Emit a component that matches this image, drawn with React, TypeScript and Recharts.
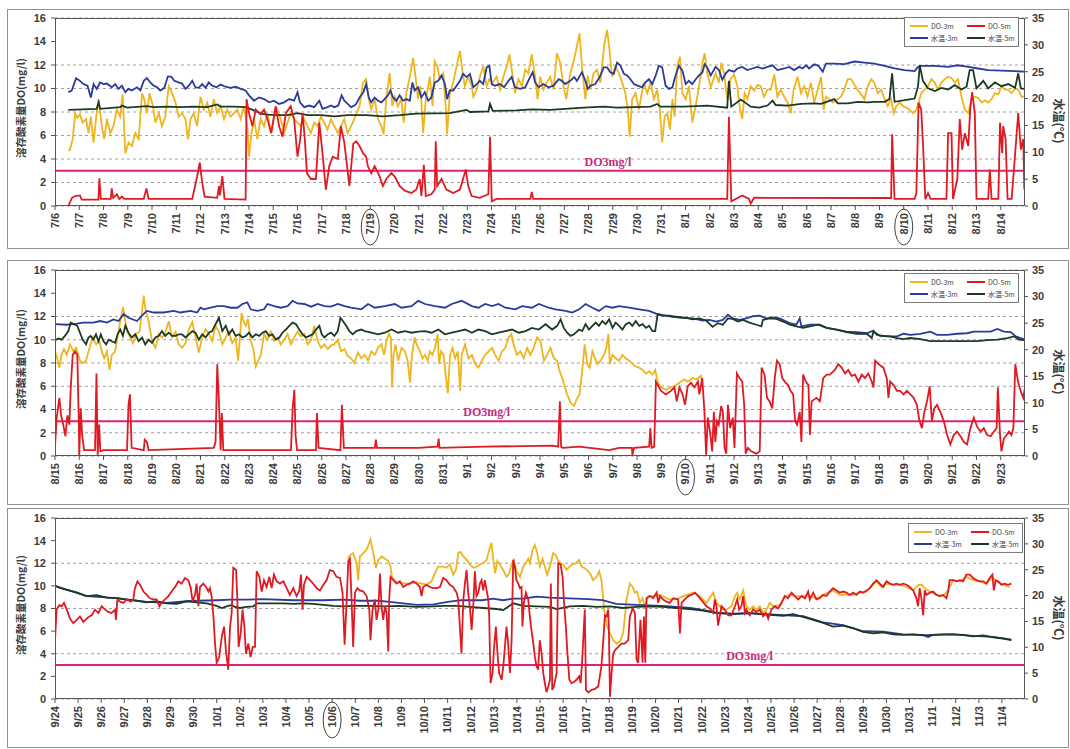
import { LineChart, Line, XAxis, YAxis, CartesianGrid, ReferenceLine } from "recharts";

type Pt = [number, number];

const YELLOW = "#efb51f";
const RED = "#e01a22";
const BLUE = "#2a3b9a";
const GREEN = "#1c3a22";
const MAGENTA = "#e2207a";

const seriesNames = ["DO-3m", "DO-5m", "水温-3m", "水温-5m"];
const seriesColors = [YELLOW, RED, BLUE, GREEN];

const doTicks = [0, 2, 4, 6, 8, 10, 12, 14, 16];
const tempTicks = [0, 5, 10, 15, 20, 25, 30, 35];

const p1Dates = ["7/6", "7/7", "7/8", "7/9", "7/10", "7/11", "7/12", "7/13", "7/14", "7/15", "7/16", "7/17", "7/18", "7/19", "7/20", "7/21", "7/22", "7/23", "7/24", "7/25", "7/26", "7/27", "7/28", "7/29", "7/30", "7/31", "8/1", "8/2", "8/3", "8/4", "8/5", "8/6", "8/7", "8/8", "8/9", "8/10", "8/11", "8/12", "8/13", "8/14"];
const p2Dates = ["8/15", "8/16", "8/17", "8/18", "8/19", "8/20", "8/21", "8/22", "8/23", "8/24", "8/25", "8/26", "8/27", "8/28", "8/29", "8/30", "8/31", "9/1", "9/2", "9/3", "9/4", "9/5", "9/6", "9/7", "9/8", "9/9", "9/10", "9/11", "9/12", "9/13", "9/14", "9/15", "9/16", "9/17", "9/18", "9/19", "9/20", "9/21", "9/22", "9/23"];
const p3Dates = ["9/24", "9/25", "9/26", "9/27", "9/28", "9/29", "9/30", "10/1", "10/2", "10/3", "10/4", "10/5", "10/6", "10/7", "10/8", "10/9", "10/10", "10/11", "10/12", "10/13", "10/14", "10/15", "10/16", "10/17", "10/18", "10/19", "10/20", "10/21", "10/22", "10/23", "10/24", "10/25", "10/26", "10/27", "10/28", "10/29", "10/30", "10/31", "11/1", "11/2", "11/3", "11/4"];

const p1Circled = ["7/19", "8/10"];
const p2Circled = ["9/10"];
const p3Circled = ["10/6"];

// [day from first tick, value]
const p1Do3: Pt[] = [[0.55,4.7],[0.62,4.8],[0.73,5.7],[0.83,7.9],[0.92,7.5],[1.03,7.8],[1.14,7.1],[1.28,7.4],[1.38,6.2],[1.48,7.6],[1.59,5.4],[1.7,7.6],[1.79,9.1],[1.93,6.8],[2.03,5.7],[2.14,7.4],[2.28,6.2],[2.41,6.8],[2.55,8.2],[2.69,7.6],[2.79,9.5],[2.9,4.5],[3.03,5.4],[3.17,5.1],[3.31,6.2],[3.45,5.7],[3.59,9.6],[3.68,9.1],[3.79,7.9],[3.9,9.6],[4.04,8.5],[4.14,7.1],[4.28,7.9],[4.41,6.8],[4.55,7.6],[4.69,10.2],[4.83,9.6],[4.97,8.8],[5.1,7.6],[5.24,7.9],[5.38,7.4],[5.48,5.7],[5.59,7.4],[5.72,7.9],[5.86,6.8],[6.0,9.3],[6.14,8.2],[6.28,8.8],[6.41,7.6],[6.55,9.1],[6.69,7.9],[6.83,8.5],[6.97,7.4],[7.1,8.2],[7.24,7.6],[7.38,7.9],[7.52,8.2],[7.66,7.4],[7.79,8.5],[7.93,6.8],[8.0,4.2],[8.1,6.2],[8.21,7.4],[8.34,5.7],[8.48,7.4],[8.62,6.8],[8.76,7.9],[8.9,6.2],[9.03,7.6],[9.17,8.2],[9.31,7.4],[9.45,6.2],[9.59,7.1],[9.72,7.9],[9.86,7.4],[10.0,7.1],[10.14,6.8],[10.28,7.4],[10.41,6.8],[10.55,6.2],[10.69,7.1],[10.83,6.8],[10.97,7.6],[11.1,7.1],[11.24,6.5],[11.38,7.4],[11.52,6.8],[11.66,6.2],[11.79,6.8],[11.93,7.4],[12.07,6.2],[12.21,6.8],[12.34,7.4],[12.56,8.5],[12.7,10.5],[12.83,10.8],[12.94,9.1],[13.04,8.2],[13.18,9.1],[13.32,7.4],[13.46,6.8],[13.55,6.1],[13.66,9.1],[13.8,11.3],[13.91,8.5],[14.01,9.3],[14.14,8.5],[14.28,9.1],[14.38,7.1],[14.49,9.6],[14.63,11.0],[14.77,12.6],[14.88,10.8],[14.97,9.1],[15.07,10.2],[15.18,6.2],[15.29,9.1],[15.46,11.0],[15.57,8.5],[15.66,12.3],[15.76,11.9],[15.87,10.8],[16.01,11.3],[16.12,8.2],[16.17,6.1],[16.28,9.6],[16.42,10.5],[16.56,11.9],[16.7,13.2],[16.81,11.3],[16.9,10.2],[17.04,11.0],[17.18,10.2],[17.25,9.3],[17.39,9.9],[17.52,11.0],[17.66,11.9],[17.8,10.2],[17.91,10.8],[18.05,10.5],[18.21,11.0],[18.35,9.9],[18.49,11.0],[18.63,11.9],[18.74,12.9],[18.88,11.0],[18.97,9.6],[19.11,10.8],[19.25,10.2],[19.39,11.6],[19.52,11.3],[19.66,12.9],[19.8,11.0],[19.9,9.1],[20.01,11.0],[20.14,9.9],[20.28,10.5],[20.42,11.0],[20.56,9.9],[20.7,13.0],[20.83,12.2],[20.97,10.2],[21.08,9.1],[21.25,11.3],[21.41,12.5],[21.52,13.6],[21.63,14.7],[21.73,11.9],[21.87,9.1],[21.97,11.1],[22.08,9.9],[22.21,11.3],[22.35,11.6],[22.49,10.5],[22.66,13.9],[22.77,15.0],[22.88,13.0],[22.97,11.0],[23.11,11.9],[23.25,11.3],[23.39,10.5],[23.52,9.6],[23.62,8.2],[23.7,5.9],[23.8,9.1],[23.94,9.6],[24.08,8.2],[24.17,9.3],[24.28,10.5],[24.42,9.6],[24.56,10.5],[24.7,9.1],[24.83,9.9],[24.94,8.2],[25.04,5.4],[25.14,7.6],[25.25,7.9],[25.36,6.5],[25.46,9.1],[25.55,7.6],[25.66,11.9],[25.77,12.7],[25.87,9.6],[26.01,9.1],[26.14,10.2],[26.28,7.1],[26.42,8.5],[26.56,10.2],[26.7,12.2],[26.79,13.0],[26.9,11.3],[27.04,10.1],[27.24,11.3],[27.38,10.5],[27.48,12.2],[27.59,11.3],[27.72,9.1],[27.86,10.8],[28.0,11.2],[28.14,10.2],[28.25,8.2],[28.34,7.4],[28.44,9.6],[28.55,9.1],[28.69,10.2],[28.83,9.8],[28.97,10.3],[29.1,10.2],[29.24,9.3],[29.38,9.9],[29.52,9.9],[29.66,11.2],[29.79,9.3],[29.93,9.9],[30.07,9.3],[30.21,8.8],[30.34,7.9],[30.46,9.9],[30.62,11.0],[30.76,9.6],[30.9,10.2],[31.03,9.3],[31.17,10.5],[31.31,8.8],[31.45,9.9],[31.59,11.0],[31.7,8.2],[31.79,9.3],[31.93,9.1],[32.07,8.8],[32.28,9.1],[32.41,9.3],[32.55,9.9],[32.69,10.8],[32.83,10.8],[32.97,10.3],[33.1,9.9],[33.24,9.5],[33.38,9.1],[33.52,10.2],[33.66,10.8],[33.79,10.5],[33.93,9.6],[34.07,9.9],[34.21,9.1],[34.34,8.5],[34.48,9.1],[34.59,7.9],[34.69,8.5],[34.83,8.8],[34.97,8.5],[35.1,8.4],[35.24,8.2],[35.38,7.9],[35.52,8.2],[35.61,8.8],[35.72,9.6],[35.86,9.9],[36.0,10.2],[36.14,10.8],[36.28,10.5],[36.41,9.9],[36.55,10.5],[36.69,10.8],[36.83,11.0],[36.97,10.9],[37.1,10.5],[37.24,10.8],[37.38,9.3],[37.52,8.2],[37.66,7.9],[37.79,9.1],[37.93,9.3],[38.07,9.2],[38.21,8.8],[38.34,9.0],[38.48,8.8],[38.62,9.1],[38.76,9.6],[38.9,9.5],[39.03,10.2],[39.17,9.9],[39.31,9.9],[39.45,9.6],[39.59,10.0],[39.72,9.9],[39.86,9.3],[39.97,9.3]];

const p1Do5: Pt[] = [[0.55,0],[0.7,0.7],[0.83,0.85],[1.03,0.9],[1.1,0.55],[1.79,0.55],[1.83,2.35],[1.89,0.6],[2.3,0.6],[2.34,1.5],[2.4,0.7],[2.55,1.0],[2.65,0.6],[2.76,0.8],[2.85,0.6],[3.66,0.6],[3.77,1.5],[3.86,0.6],[5.66,0.6],[5.86,2.5],[5.97,3.7],[6.07,2.0],[6.17,0.8],[6.69,0.7],[6.76,1.7],[6.8,0.9],[6.9,2.55],[6.99,0.6],[7.86,0.55],[7.9,9.1],[8.0,7.9],[8.14,6.8],[8.28,8.2],[8.48,7.8],[8.62,8.2],[8.76,7.4],[8.92,6.2],[9.1,8.5],[9.24,6.8],[9.38,5.9],[9.52,7.9],[9.72,8.5],[9.86,7.4],[10.0,4.2],[10.11,5.7],[10.21,7.9],[10.3,5.7],[10.39,2.8],[10.55,2.3],[10.76,2.3],[10.9,7.1],[11.03,4.5],[11.17,1.4],[11.31,3.4],[11.45,4.2],[11.66,4.0],[11.79,6.8],[11.93,5.4],[12.14,1.7],[12.3,5.3],[12.42,5.5],[12.56,5.1],[12.7,4.5],[12.83,4.2],[12.9,3.4],[13.04,2.8],[13.18,3.4],[13.39,2.5],[13.52,1.7],[13.66,2.3],[13.87,2.8],[14.01,2.5],[14.21,1.7],[14.42,1.3],[14.7,1.1],[14.9,1.4],[15.04,2.3],[15.11,0.85],[15.21,3.5],[15.29,0.85],[15.52,1.0],[15.66,1.4],[15.7,5.5],[15.76,1.7],[15.94,2.3],[16.14,1.4],[16.42,1.1],[16.7,1.4],[16.94,3.1],[17.04,1.7],[17.18,0.85],[17.52,0.7],[17.87,1.0],[17.94,5.9],[18.01,0.4],[18.21,0.6],[19.6,0.6],[19.66,1.2],[19.72,0.6],[27.72,0.6],[27.79,7.6],[27.89,0.4],[28.34,0.9],[28.62,0.6],[28.69,0.2],[28.83,0.7],[34.48,0.68],[34.52,6.1],[34.62,0.6],[35.45,0.6],[35.52,1.1],[35.61,8.8],[35.72,8.2],[35.79,5.4],[35.89,0.57],[36.0,1.1],[36.11,0.6],[36.76,0.6],[36.83,6.2],[36.97,6.2],[37.03,0.6],[37.21,2.3],[37.31,7.4],[37.41,4.8],[37.52,6.2],[37.66,5.1],[37.74,8.2],[37.82,9.7],[37.93,7.9],[38.0,0.6],[38.48,0.6],[38.55,3.1],[38.62,0.6],[38.9,0.6],[38.97,7.1],[39.06,4.5],[39.1,6.8],[39.2,5.7],[39.28,0.6],[39.45,0.6],[39.72,7.9],[39.83,4.8],[39.93,5.7],[39.97,1.4]];

const p1T3: Pt[] = [[0.55,21.2],[0.69,21.5],[0.87,23.8],[1.03,23.3],[1.17,22.7],[1.34,22.4],[1.48,20.2],[1.59,22.7],[1.72,21.8],[1.86,23.0],[2.0,22.7],[2.14,22.8],[2.34,22.1],[2.48,22.7],[2.62,21.8],[2.76,22.4],[2.9,21.2],[3.03,21.8],[3.17,21.5],[3.38,22.1],[3.52,21.5],[3.66,23.3],[3.79,23.8],[3.93,23.0],[4.07,22.4],[4.21,22.1],[4.34,21.5],[4.51,22.0],[4.65,24.1],[4.79,24.1],[4.92,23.3],[5.1,23.0],[5.24,22.8],[5.38,21.8],[5.52,22.4],[5.66,23.3],[5.79,22.1],[5.93,22.0],[6.07,22.7],[6.21,22.0],[6.34,23.0],[6.48,22.4],[6.66,22.1],[6.83,22.6],[7.03,22.2],[7.24,22.0],[7.45,22.2],[7.66,21.8],[7.86,21.5],[8.0,20.6],[8.21,19.6],[8.41,20.2],[8.62,19.9],[8.83,19.3],[9.03,19.6],[9.24,19.0],[9.45,19.3],[9.66,19.9],[9.86,19.6],[10.0,21.2],[10.1,19.3],[10.28,18.4],[10.48,18.7],[10.69,18.4],[10.9,19.6],[11.03,18.1],[11.24,18.4],[11.38,18.7],[11.52,18.4],[11.68,18.7],[11.82,20.6],[11.93,19.6],[12.07,19.0],[12.21,18.4],[12.34,18.7],[12.42,19.0],[12.56,20.2],[12.72,21.2],[12.83,22.7],[12.94,20.2],[13.04,19.3],[13.18,20.2],[13.32,19.6],[13.46,19.3],[13.59,19.9],[13.73,20.6],[13.83,21.5],[13.94,20.2],[14.08,19.6],[14.21,20.6],[14.35,19.6],[14.49,19.9],[14.63,19.6],[14.74,23.0],[14.83,21.5],[14.97,22.1],[15.11,20.2],[15.25,21.2],[15.39,19.6],[15.52,20.2],[15.66,23.0],[15.8,23.3],[15.94,24.3],[16.08,22.7],[16.17,19.9],[16.28,21.5],[16.42,21.5],[16.56,22.4],[16.7,23.3],[16.83,24.6],[16.97,24.0],[17.11,24.6],[17.25,22.1],[17.39,22.7],[17.52,23.3],[17.66,22.7],[17.8,25.8],[17.91,26.1],[18.01,22.7],[18.14,22.4],[18.35,22.7],[18.52,22.1],[18.7,23.3],[18.83,24.0],[18.97,22.1],[19.18,21.8],[19.39,22.1],[19.59,24.0],[19.7,24.9],[19.8,23.0],[19.94,22.1],[20.14,22.7],[20.35,22.1],[20.56,22.4],[20.77,23.6],[20.9,23.3],[21.04,22.7],[21.25,23.3],[21.41,24.0],[21.52,23.3],[21.73,24.9],[21.87,23.3],[21.97,21.8],[22.08,22.4],[22.28,22.7],[22.46,24.0],[22.63,25.8],[22.77,25.8],[22.9,24.9],[23.04,24.6],[23.18,26.7],[23.32,26.1],[23.46,24.6],[23.59,24.3],[23.73,23.6],[23.87,22.7],[24.03,22.4],[24.21,22.1],[24.35,23.0],[24.49,23.6],[24.63,22.7],[24.77,24.3],[24.9,26.1],[25.04,25.8],[25.18,22.4],[25.32,21.8],[25.46,22.1],[25.59,24.3],[25.73,26.1],[25.87,25.2],[26.01,22.7],[26.14,23.3],[26.28,22.7],[26.42,23.6],[26.56,24.3],[26.7,24.9],[26.79,26.4],[26.9,25.8],[27.04,24.3],[27.24,25.9],[27.38,25.3],[27.52,23.5],[27.66,24.7],[27.79,25.3],[28.0,25.0],[28.14,25.6],[28.34,25.9],[28.55,25.3],[28.76,25.6],[28.97,25.9],[29.17,25.6],[29.38,25.9],[29.59,26.2],[29.79,25.3],[30.07,25.6],[30.28,25.9],[30.48,25.3],[30.69,25.9],[30.83,25.6],[30.97,26.2],[31.1,25.6],[31.31,26.4],[31.48,26.1],[31.66,25.0],[31.79,26.5],[32.14,26.5],[32.55,26.4],[32.97,26.9],[33.38,26.7],[33.79,26.5],[34.21,26.1],[34.62,25.6],[35.03,25.3],[35.45,25.1],[35.59,25.9],[35.72,26.1],[36.28,26.1],[36.83,25.9],[37.24,26.2],[37.66,25.9],[38.07,25.6],[38.48,25.3],[39.03,25.2],[39.59,25.1],[39.97,25.0]];

const p1T5: Pt[] = [[0.55,17.9],[1.72,18.1],[1.8,19.3],[1.86,18.1],[2.69,18.4],[2.76,18.7],[2.97,18.3],[3.52,18.5],[3.79,18.6],[4.07,18.4],[4.62,18.5],[5.17,18.4],[5.72,18.5],[6.28,18.4],[6.69,18.9],[6.83,18.5],[7.38,18.5],[7.86,18.4],[8.21,17.8],[8.48,17.2],[8.76,17.0],[9.17,16.9],[9.59,16.9],[10.0,17.3],[10.41,16.9],[10.97,16.9],[11.52,16.7],[12.07,16.9],[12.83,16.9],[13.52,16.7],[14.21,16.9],[14.9,17.2],[16.28,17.3],[16.97,17.9],[17.11,17.5],[17.87,17.6],[17.94,19.0],[18.05,17.7],[19.04,17.8],[19.66,18.0],[20.42,17.9],[21.8,18.3],[22.63,18.5],[23.18,18.3],[24.56,18.5],[24.83,19.0],[24.97,18.5],[25.94,18.5],[26.9,18.7],[27.72,18.3],[27.79,23.3],[27.89,18.5],[28.28,19.8],[28.48,19.2],[28.69,18.5],[29.03,18.3],[29.38,18.7],[29.59,19.6],[29.72,18.8],[30.21,18.7],[30.76,19.0],[31.31,19.1],[31.59,19.0],[32.14,19.9],[32.28,19.1],[32.69,19.1],[33.1,19.4],[33.52,19.3],[33.79,19.4],[34.21,19.4],[34.41,19.9],[34.52,24.7],[34.62,19.4],[35.17,19.8],[35.45,20.0],[35.59,22.3],[35.66,26.2],[35.79,23.3],[36.0,21.9],[36.28,21.4],[36.55,22.0],[36.83,21.7],[37.1,22.5],[37.38,21.7],[37.59,22.2],[37.72,25.3],[37.86,25.3],[38.0,21.9],[38.28,23.3],[38.48,21.9],[38.76,23.0],[39.03,22.3],[39.31,22.7],[39.59,22.0],[39.72,24.7],[39.83,21.9],[39.97,21.8]];

const p2Do3: Pt[] = [[0,9.0],[0.09,8.4],[0.18,7.6],[0.27,8.7],[0.37,9.2],[0.48,8.7],[0.62,9.6],[0.76,9.0],[0.87,9.3],[0.96,8.7],[1.03,8.2],[1.14,8.0],[1.28,8.2],[1.42,9.3],[1.56,10.2],[1.7,9.6],[1.83,9.9],[1.93,9.0],[2.03,8.4],[2.14,9.0],[2.25,7.4],[2.34,8.7],[2.48,9.0],[2.58,10.2],[2.69,11.6],[2.8,12.8],[2.9,11.6],[2.99,10.7],[3.1,10.2],[3.21,9.7],[3.35,10.5],[3.49,10.7],[3.59,12.5],[3.66,13.8],[3.74,12.5],[3.86,11.6],[4.0,9.9],[4.14,9.3],[4.28,10.5],[4.41,10.2],[4.55,10.6],[4.69,11.6],[4.83,10.2],[4.97,10.7],[5.1,9.6],[5.24,9.3],[5.38,9.7],[5.52,10.9],[5.66,11.5],[5.79,10.3],[5.93,8.9],[6.07,10.2],[6.21,10.9],[6.35,10.5],[6.48,9.9],[6.62,11.2],[6.76,10.7],[6.9,9.6],[7.04,10.2],[7.17,10.7],[7.31,9.7],[7.45,10.2],[7.55,8.2],[7.63,10.2],[7.69,12.3],[7.77,11.6],[7.87,11.2],[7.96,11.8],[8.07,9.9],[8.18,9.2],[8.28,7.7],[8.38,8.2],[8.49,8.7],[8.62,10.5],[8.76,10.0],[8.9,10.7],[9.04,9.9],[9.18,10.2],[9.31,9.6],[9.45,10.0],[9.59,10.5],[9.73,9.6],[9.87,10.2],[10.0,10.7],[10.14,10.3],[10.28,10.5],[10.42,9.6],[10.56,10.0],[10.69,11.2],[10.83,9.9],[10.97,9.3],[11.11,9.6],[11.25,9.2],[11.38,9.5],[11.52,9.6],[11.66,10.0],[11.8,9.0],[11.94,9.2],[12.07,8.6],[12.21,8.4],[12.35,8.0],[12.49,8.9],[12.63,8.4],[12.77,8.7],[12.91,8.2],[13.05,9.0],[13.19,8.7],[13.32,9.3],[13.46,9.6],[13.57,8.7],[13.67,9.9],[13.77,10.5],[13.85,10.2],[13.9,5.9],[13.96,8.7],[14.04,9.6],[14.15,8.2],[14.29,9.3],[14.43,9.0],[14.54,8.2],[14.64,6.3],[14.72,8.7],[14.83,10.2],[14.91,9.6],[15.05,9.0],[15.15,8.4],[15.26,8.7],[15.37,8.2],[15.46,9.0],[15.56,8.7],[15.67,9.3],[15.78,10.5],[15.84,7.9],[15.92,9.0],[16.02,8.7],[16.11,7.0],[16.2,5.4],[16.29,8.7],[16.39,9.3],[16.5,8.4],[16.61,9.0],[16.71,5.6],[16.77,8.7],[16.91,9.6],[17.05,8.4],[17.19,8.7],[17.33,7.9],[17.46,7.6],[17.6,8.2],[17.74,8.7],[17.88,9.0],[18.02,9.3],[18.15,8.7],[18.29,8.2],[18.43,9.0],[18.57,9.3],[18.71,10.2],[18.82,10.5],[18.91,9.6],[19.05,8.7],[19.19,9.0],[19.33,8.4],[19.47,9.3],[19.6,8.7],[19.74,9.3],[19.88,10.2],[20.02,9.9],[20.16,8.2],[20.29,8.7],[20.43,9.3],[20.57,8.4],[20.71,8.2],[20.81,7.3],[20.92,6.7],[21.03,5.9],[21.12,5.3],[21.26,4.6],[21.4,4.3],[21.54,5.0],[21.63,5.3],[21.74,7.3],[21.84,9.6],[21.95,7.9],[22.05,7.6],[22.16,9.0],[22.27,8.4],[22.37,7.9],[22.5,8.2],[22.64,8.7],[22.74,9.3],[22.82,10.5],[22.88,7.9],[22.99,8.7],[23.12,8.4],[23.26,8.2],[23.4,8.7],[23.54,8.4],[23.68,8.2],[23.81,7.9],[23.95,7.7],[24.09,7.6],[24.23,7.4],[24.37,7.1],[24.5,7.3],[24.64,7.0],[24.75,7.4],[24.85,6.4],[24.99,5.9],[25.19,5.7],[25.4,5.9],[25.54,6.0],[25.75,6.3],[25.95,6.6],[26.09,6.4],[26.3,6.7],[26.44,6.6],[26.64,6.9],[26.69,6.4]];

const p2Do5: Pt[] = [[0,0.8],[0.07,3.3],[0.18,5.0],[0.25,3.5],[0.34,2.7],[0.43,1.7],[0.51,3.5],[0.59,2.7],[0.65,5.9],[0.73,8.7],[0.83,9.0],[0.92,8.7],[0.98,3.0],[1.0,0],[1.06,4.1],[1.12,1.8],[1.2,0.5],[1.65,0.5],[1.71,7.1],[1.76,0.1],[1.82,2.7],[1.87,0.4],[2.0,0.5],[2.97,0.5],[3.03,4.4],[3.09,5.3],[3.16,0.7],[3.66,0.5],[3.7,1.4],[3.79,1.2],[3.86,0.5],[6.55,0.7],[6.62,1.2],[6.69,7.9],[6.76,4.7],[6.83,0.5],[6.88,3.7],[6.94,0.5],[9.73,0.5],[9.8,4.1],[9.87,5.7],[9.92,1.8],[9.98,0.5],[10.76,0.5],[10.8,3.7],[10.87,0.7],[11.77,0.5],[11.83,4.4],[11.91,0.7],[12.63,0.7],[13.19,0.7],[13.23,1.4],[13.28,0.7],[14.98,0.7],[15.78,0.8],[15.82,1.5],[15.86,0.7],[17.74,0.8],[20.5,0.9],[20.75,0.8],[20.82,4.7],[20.87,0.8],[20.94,0.7],[21.61,0.8],[22.85,0.5],[23.26,0.7],[23.79,0.7],[23.81,0.1],[23.88,0.7],[24.5,0.8],[24.55,2.4],[24.6,0.7],[24.71,0.8],[24.78,6.4],[24.99,5.6],[25.19,5.3],[25.4,5.6],[25.54,5.9],[25.64,4.7],[25.75,5.9],[25.88,5.3],[25.98,4.4],[26.09,6.0],[26.23,6.3],[26.37,5.9],[26.51,6.4],[26.57,5.3],[26.69,6.7],[26.78,3.8],[26.85,0.1],[26.92,3.3],[27.01,2.1],[27.1,0.4],[27.17,3.8],[27.23,1.2],[27.3,3.0],[27.37,2.7],[27.47,4.3],[27.54,3.8],[27.61,0.7],[27.68,0.2],[27.75,4.4],[27.84,2.4],[27.95,3.3],[28.02,0.7],[28.12,7.1],[28.23,6.7],[28.34,6.4],[28.42,4.4],[28.48,0.2],[28.57,0.7],[28.71,0.4],[28.92,0.2],[29.06,0.4],[29.14,7.6],[29.26,7.0],[29.36,5.0],[29.47,4.7],[29.58,4.1],[29.68,6.7],[29.77,8.2],[29.88,7.9],[29.99,6.7],[30.09,6.4],[30.23,6.1],[30.33,5.6],[30.44,5.3],[30.52,3.0],[30.6,2.7],[30.71,3.8],[30.78,1.2],[30.85,7.0],[30.96,6.4],[31.07,6.1],[31.13,1.8],[31.2,4.7],[31.4,5.0],[31.54,4.7],[31.68,6.7],[31.82,7.0],[31.95,7.0],[32.16,7.4],[32.3,7.9],[32.44,7.6],[32.58,7.1],[32.71,7.4],[32.85,6.9],[32.99,7.0],[33.13,6.4],[33.27,7.0],[33.4,6.7],[33.54,7.1],[33.68,6.4],[33.75,5.9],[33.82,8.2],[33.96,7.9],[34.16,7.6],[34.3,6.7],[34.37,5.0],[34.44,6.4],[34.58,6.1],[34.72,5.6],[34.85,5.6],[34.99,5.3],[35.13,5.6],[35.27,5.3],[35.41,5.0],[35.54,4.4],[35.65,3.0],[35.75,2.4],[35.85,3.8],[35.96,4.7],[36.07,6.0],[36.16,3.0],[36.26,4.1],[36.37,4.4],[36.51,3.8],[36.65,3.0],[36.79,1.8],[36.92,1.0],[37.06,1.8],[37.2,2.1],[37.34,1.7],[37.48,1.2],[37.61,1.0],[37.75,2.4],[37.89,3.3],[38.03,2.5],[38.17,2.1],[38.3,2.4],[38.44,1.8],[38.58,1.7],[38.72,2.1],[38.83,2.4],[38.88,5.9],[38.97,1.8],[39.03,0.4],[39.13,1.5],[39.24,1.8],[39.34,2.1],[39.44,1.8],[39.52,2.4],[39.6,7.9],[39.71,6.4],[39.82,5.6],[39.93,5.0],[40,5.9]];

const p2T3: Pt[] = [[0,24.8],[0.48,24.7],[0.9,24.9],[1.17,25.1],[1.58,25.1],[1.86,25.4],[2.14,25.1],[2.41,25.7],[2.62,25.4],[2.83,26.7],[3.03,26.0],[3.38,25.4],[3.65,26.7],[3.79,27.3],[4.07,27.0],[4.48,27.0],[4.9,27.3],[5.17,27.0],[5.59,27.3],[5.86,27.0],[6.0,27.9],[6.14,27.6],[6.42,27.9],[6.69,28.2],[6.97,28.2],[7.24,27.9],[7.52,27.9],[7.73,28.6],[7.93,28.9],[8.07,27.6],[8.35,27.3],[8.62,27.6],[8.76,28.6],[9.04,28.2],[9.31,27.9],[9.59,28.2],[9.8,29.2],[10.0,28.7],[10.28,28.6],[10.56,28.1],[10.83,28.6],[11.11,28.2],[11.38,28.1],[11.66,28.6],[11.94,28.2],[12.21,27.9],[12.63,27.6],[12.91,28.6],[13.19,27.9],[13.6,28.2],[14.01,28.6],[14.29,27.9],[14.7,28.2],[14.98,29.2],[15.26,28.6],[15.67,28.2],[16.08,27.9],[16.36,28.6],[16.77,29.2],[17.19,28.2],[17.46,27.9],[17.74,28.6],[18.02,28.2],[18.29,28.6],[18.57,27.9],[18.98,27.6],[19.26,28.2],[19.67,27.9],[19.95,28.6],[20.36,27.9],[20.64,27.6],[21.05,27.3],[21.33,27.0],[21.61,27.6],[21.88,28.6],[22.16,27.9],[22.43,27.3],[22.71,28.2],[22.99,27.9],[23.26,28.2],[23.68,27.9],[24.09,27.6],[24.5,27.3],[24.78,26.8],[25.06,26.5],[25.47,26.2],[25.88,26.0],[26.3,25.9],[26.71,25.5],[26.99,25.6],[27.26,25.3],[27.54,25.6],[27.75,26.6],[27.95,25.9],[28.23,25.6],[28.5,25.9],[28.78,26.3],[29.06,26.4],[29.33,25.9],[29.61,26.1],[29.88,25.9],[30.3,25.0],[30.57,24.7],[30.71,25.9],[30.78,24.4],[31.13,24.7],[31.54,24.7],[31.82,24.1],[32.23,23.8],[32.64,23.4],[33.06,23.3],[33.47,23.1],[33.75,23.6],[33.89,22.8],[34.3,22.5],[34.72,22.5],[34.99,23.0],[35.27,22.8],[35.68,23.0],[36.1,23.4],[36.37,22.8],[36.79,22.8],[37.2,23.0],[37.61,23.1],[37.89,23.4],[38.17,23.4],[38.58,23.4],[38.86,23.9],[39.13,23.4],[39.41,23.3],[39.62,22.5],[39.82,22.2],[40,21.9]];

const p2T5: Pt[] = [[0,21.8],[0.14,22.1],[0.27,21.9],[0.41,22.6],[0.55,23.5],[0.65,25.1],[0.78,24.8],[0.92,24.5],[1.03,23.2],[1.14,21.9],[1.28,21.0],[1.38,22.3],[1.47,22.6],[1.58,21.9],[1.69,22.9],[1.79,21.6],[1.89,22.9],[2.0,21.6],[2.11,21.0],[2.21,21.9],[2.34,21.6],[2.48,21.3],[2.58,22.9],[2.69,23.8],[2.8,22.6],[2.9,24.5],[3.03,23.2],[3.17,22.3],[3.31,22.9],[3.45,21.6],[3.59,22.3],[3.72,21.0],[3.86,21.9],[4.0,21.3],[4.14,22.3],[4.28,22.6],[4.41,23.5],[4.55,22.6],[4.69,23.2],[4.83,22.6],[4.97,22.6],[5.1,22.9],[5.24,22.9],[5.38,22.3],[5.52,22.9],[5.66,23.5],[5.79,23.2],[5.93,21.9],[6.07,22.9],[6.21,22.3],[6.35,23.2],[6.48,23.5],[6.62,24.8],[6.76,26.0],[6.9,23.5],[7.04,24.5],[7.17,22.9],[7.31,23.8],[7.45,22.6],[7.59,22.9],[7.73,22.3],[7.87,22.6],[8.0,23.2],[8.14,22.3],[8.28,22.9],[8.42,22.6],[8.56,23.2],[8.69,23.5],[8.83,22.6],[8.97,22.9],[9.11,21.9],[9.25,22.3],[9.38,23.2],[9.52,23.8],[9.66,24.5],[9.8,25.1],[9.94,24.8],[10.07,23.8],[10.21,22.9],[10.35,22.3],[10.49,22.6],[10.63,22.9],[10.76,23.8],[10.9,24.5],[11.0,22.9],[11.11,22.3],[11.25,22.9],[11.38,23.2],[11.52,22.6],[11.66,23.5],[11.77,26.0],[11.87,25.4],[12.01,24.5],[12.14,23.5],[12.28,22.9],[12.42,23.5],[12.63,23.8],[12.77,23.5],[13.05,23.2],[13.32,22.9],[13.6,23.2],[13.88,23.8],[14.15,23.2],[14.43,23.5],[14.7,23.2],[14.98,23.4],[15.26,23.5],[15.53,23.2],[15.81,23.8],[16.08,22.9],[16.36,23.2],[16.64,23.5],[16.91,23.8],[17.19,23.2],[17.46,23.8],[17.74,23.5],[18.02,22.9],[18.29,23.2],[18.57,23.5],[18.85,23.8],[19.12,23.2],[19.4,23.5],[19.67,24.1],[19.95,23.8],[20.23,24.8],[20.5,23.8],[20.71,24.5],[20.85,25.7],[20.98,24.1],[21.12,23.2],[21.26,22.6],[21.4,22.9],[21.61,23.8],[21.74,23.5],[21.88,24.8],[22.02,23.8],[22.16,24.5],[22.3,25.1],[22.43,24.5],[22.57,25.4],[22.71,24.8],[22.85,25.7],[22.99,24.1],[23.12,25.1],[23.26,24.5],[23.4,23.8],[23.54,24.8],[23.68,25.1],[23.81,24.5],[23.95,25.4],[24.09,24.5],[24.23,24.8],[24.37,24.1],[24.5,24.5],[24.64,23.5],[24.75,23.5],[24.85,26.7],[25.06,26.4],[25.33,26.4],[25.61,26.2],[26.02,26.0],[26.3,25.7],[26.57,25.9],[26.85,25.5],[27.12,24.3],[27.33,25.0],[27.54,24.7],[27.75,25.9],[27.95,25.8],[28.16,25.3],[28.37,25.6],[28.64,25.1],[28.92,24.7],[29.13,24.4],[29.19,25.6],[29.47,25.9],[29.75,25.8],[30.02,25.3],[30.3,24.7],[30.57,24.4],[30.85,24.1],[31.13,24.4],[31.47,24.7],[31.82,24.1],[32.23,23.8],[32.64,23.3],[33.06,23.0],[33.47,23.0],[33.68,22.2],[33.75,23.4],[34.03,22.6],[34.44,22.5],[34.72,22.2],[34.99,22.0],[35.27,22.2],[35.68,22.0],[36.1,21.6],[36.37,21.6],[36.79,21.6],[37.2,21.6],[37.61,21.6],[38.03,21.6],[38.44,21.8],[38.86,21.9],[39.27,22.2],[39.55,22.5],[39.75,21.9],[40,21.8]];

const p3Do3: Pt[] = [[12.68,12.4],[12.77,12.7],[12.91,12.9],[13.06,12.0],[13.13,10.5],[13.2,12.6],[13.35,12.9],[13.49,13.2],[13.61,13.8],[13.66,14.1],[13.78,12.9],[13.9,11.6],[14.0,12.3],[14.14,12.6],[14.29,12.4],[14.43,12.2],[14.53,11.7],[14.59,10.8],[14.79,10.3],[15.22,10.2],[15.66,10.3],[16.09,10.1],[16.3,10.4],[16.45,11.1],[16.59,11.7],[16.81,11.7],[16.95,11.6],[17.1,11.9],[17.24,11.0],[17.36,11.4],[17.46,12.9],[17.56,13.0],[17.68,12.6],[17.82,12.3],[17.96,11.9],[18.11,11.6],[18.25,11.7],[18.4,11.9],[18.54,12.0],[18.69,12.3],[18.8,13.2],[18.9,13.8],[18.97,12.4],[19.06,11.1],[19.15,12.2],[19.26,11.9],[19.41,11.4],[19.55,10.8],[19.67,11.1],[19.77,11.9],[19.87,12.3],[19.98,11.3],[20.13,10.8],[20.27,11.7],[20.39,12.0],[20.49,12.4],[20.56,12.0],[20.68,13.2],[20.78,13.6],[20.88,12.9],[20.99,11.7],[21.11,12.4],[21.21,11.7],[21.31,11.0],[21.43,11.7],[21.57,12.9],[21.69,12.7],[21.79,12.2],[21.89,12.0],[22.0,11.9],[22.15,11.4],[22.27,11.7],[22.41,11.9],[22.55,12.0],[22.7,12.3],[22.8,11.7],[22.9,11.6],[23.04,11.4],[23.19,11.0],[23.3,10.5],[23.45,10.8],[23.56,11.3],[23.66,10.5],[23.74,8.8],[23.81,7.3],[23.91,6.4],[24.03,5.8],[24.17,5.2],[24.31,4.9],[24.46,5.1],[24.6,5.8],[24.75,8.8],[24.89,10.2],[25.01,9.9],[25.11,9.4],[25.21,9.5],[25.32,8.5],[25.44,8.9],[25.54,8.2],[25.69,9.1],[25.9,9.1],[26.19,9.2],[26.62,8.8],[26.98,8.9],[27.34,9.2],[27.63,9.4],[27.92,9.1],[28.21,8.5],[28.5,9.4],[28.64,8.5],[28.79,8.2],[28.93,7.9],[29.07,7.9],[29.29,8.2],[29.44,9.1],[29.54,9.4],[29.65,8.8],[29.8,9.6],[29.94,8.2],[30.08,7.9],[30.23,8.2],[30.37,7.9],[30.52,8.2],[30.66,7.6],[30.81,7.9],[30.95,8.5],[31.09,8.2],[31.38,8.3],[31.6,9.1],[31.82,9.2],[32.1,9.1],[32.39,9.1],[32.68,9.1],[32.97,8.9],[33.26,9.2],[33.55,9.5],[33.69,9.6],[33.98,9.2],[34.27,9.2],[34.56,9.2],[34.85,9.4],[35.14,9.5],[35.42,10.1],[35.57,10.4],[35.78,9.9],[36.0,10.2],[36.29,10.1],[36.58,10.1],[36.87,9.9],[37.16,9.6],[37.3,9.9],[37.41,10.1],[37.52,10.1],[37.66,9.8],[37.88,9.5],[38.17,9.2],[38.45,9.1],[38.67,9.6],[38.89,10.5],[39.18,10.4],[39.46,10.8],[39.75,10.5],[40.04,10.4],[40.33,10.2],[40.59,10.8],[40.76,10.4],[41.05,10.1],[41.34,9.9]];

const p3Do5: Pt[] = [[0,5.2],[0.07,7.9],[0.19,8.3],[0.29,8.2],[0.39,8.5],[0.51,7.9],[0.65,7.1],[0.79,6.7],[0.94,7.0],[1.08,7.3],[1.23,6.8],[1.37,7.1],[1.49,7.3],[1.59,7.4],[1.73,7.9],[1.88,7.6],[2.02,8.2],[2.17,7.9],[2.31,7.7],[2.45,7.6],[2.6,7.9],[2.64,7.0],[2.7,8.8],[2.81,8.6],[2.96,8.5],[3.1,8.8],[3.28,8.6],[3.39,8.8],[3.46,9.8],[3.57,10.4],[3.68,10.1],[3.83,9.5],[3.97,9.2],[4.11,8.9],[4.26,8.8],[4.4,8.8],[4.52,8.2],[4.62,8.5],[4.76,8.8],[4.91,9.1],[5.05,9.5],[5.2,9.9],[5.34,10.4],[5.48,10.2],[5.63,10.7],[5.77,10.5],[5.87,9.9],[5.96,8.6],[6.06,9.2],[6.13,10.2],[6.21,8.2],[6.28,9.9],[6.42,10.2],[6.54,9.9],[6.64,9.5],[6.71,9.8],[6.78,9.1],[6.86,7.3],[6.93,4.9],[7.0,3.2],[7.11,3.7],[7.22,5.5],[7.32,6.4],[7.4,4.3],[7.5,2.6],[7.58,6.4],[7.65,7.6],[7.72,11.6],[7.84,11.4],[7.89,9.1],[7.95,4.6],[8.04,5.8],[8.12,7.9],[8.2,6.4],[8.27,4.0],[8.37,4.9],[8.47,3.7],[8.56,4.6],[8.66,4.6],[8.73,11.3],[8.85,10.8],[8.95,9.5],[9.05,10.5],[9.16,9.9],[9.28,10.8],[9.38,9.8],[9.48,11.0],[9.6,10.4],[9.74,10.2],[9.89,10.4],[10.03,9.8],[10.17,9.2],[10.32,9.8],[10.46,9.1],[10.58,9.6],[10.65,11.0],[10.72,7.9],[10.78,10.1],[10.9,10.8],[11.04,10.5],[11.18,10.2],[11.33,9.8],[11.47,9.6],[11.62,10.1],[11.76,10.5],[11.9,11.4],[12.05,11.3],[12.19,10.8],[12.34,10.7],[12.45,9.4],[12.54,4.8],[12.63,8.8],[12.7,12.2],[12.77,12.4],[12.84,8.8],[12.91,4.6],[12.99,9.4],[13.09,9.8],[13.2,9.6],[13.35,9.5],[13.49,9.1],[13.61,7.9],[13.66,5.2],[13.75,7.9],[13.85,8.8],[13.92,7.0],[14.0,7.9],[14.07,11.1],[14.14,8.2],[14.21,7.0],[14.29,8.2],[14.36,7.6],[14.43,4.2],[14.47,8.8],[14.53,10.8],[14.65,10.5],[14.79,10.2],[14.93,10.4],[15.08,9.9],[15.22,10.1],[15.37,10.2],[15.51,10.4],[15.66,10.2],[15.8,9.9],[15.87,9.1],[15.94,9.9],[16.09,10.1],[16.23,9.9],[16.38,9.8],[16.52,9.8],[16.67,9.9],[16.81,10.7],[16.95,10.5],[17.1,10.1],[17.24,9.9],[17.39,9.4],[17.46,8.8],[17.53,6.4],[17.6,4.0],[17.68,8.8],[17.75,10.2],[17.82,11.4],[17.89,9.4],[17.96,8.2],[18.04,6.1],[18.11,8.2],[18.18,11.3],[18.25,9.1],[18.33,9.4],[18.4,10.2],[18.47,10.5],[18.54,9.6],[18.61,10.5],[18.69,9.6],[18.76,8.8],[18.8,7.3],[18.86,1.4],[18.95,2.3],[19.0,4.3],[19.09,6.4],[19.15,4.3],[19.23,2.3],[19.34,1.7],[19.41,2.9],[19.48,4.6],[19.55,6.4],[19.62,4.9],[19.7,2.3],[19.77,5.2],[19.84,12.3],[19.91,11.7],[19.98,10.5],[20.06,10.2],[20.13,9.8],[20.2,9.9],[20.24,6.4],[20.3,8.5],[20.39,9.4],[20.49,8.8],[20.56,7.3],[20.63,6.1],[20.71,4.9],[20.78,3.7],[20.85,2.9],[20.92,2.6],[20.99,5.2],[21.07,4.0],[21.14,2.3],[21.21,1.4],[21.28,0.6],[21.36,1.1],[21.43,1.7],[21.47,10.2],[21.53,0.8],[21.6,1.1],[21.72,2.3],[21.79,12.0],[21.89,11.9],[21.98,10.8],[22.03,8.8],[22.12,6.4],[22.18,4.3],[22.27,1.7],[22.37,1.4],[22.47,1.5],[22.58,1.7],[22.7,2.0],[22.76,1.4],[22.83,3.5],[22.9,6.4],[22.94,7.9],[22.99,0.8],[23.09,0.6],[23.23,0.8],[23.38,0.9],[23.52,1.1],[23.59,2.0],[23.66,2.9],[23.74,5.2],[23.81,7.4],[23.88,7.3],[23.95,7.9],[23.98,6.4],[24.03,0.2],[24.1,2.3],[24.17,4.0],[24.24,4.3],[24.39,4.6],[24.53,4.9],[24.67,4.9],[24.82,5.2],[24.89,7.3],[25.01,8.0],[25.11,7.6],[25.18,3.5],[25.25,3.2],[25.35,7.0],[25.44,3.2],[25.5,7.3],[25.56,3.2],[25.61,8.9],[25.76,9.1],[25.9,8.9],[26.05,9.4],[26.12,8.5],[26.19,9.1],[26.33,8.8],[26.48,8.6],[26.62,8.5],[26.77,8.9],[26.98,8.8],[27.06,5.8],[27.13,8.5],[27.27,8.8],[27.42,9.1],[27.56,9.2],[27.71,9.4],[27.85,9.1],[28.21,8.2],[28.35,8.0],[28.5,7.6],[28.57,8.8],[28.64,8.2],[28.71,6.5],[28.86,8.2],[29.0,7.9],[29.15,7.4],[29.29,7.4],[29.44,8.2],[29.54,8.8],[29.62,7.9],[29.72,8.2],[29.8,9.1],[29.87,7.6],[29.94,7.9],[30.08,7.4],[30.23,7.9],[30.37,7.7],[30.52,7.9],[30.66,7.3],[30.78,7.6],[30.88,7.1],[31.02,7.9],[31.17,8.2],[31.31,8.0],[31.46,8.5],[31.6,9.1],[31.74,8.9],[31.89,9.4],[32.03,9.1],[32.18,8.8],[32.32,9.1],[32.47,8.9],[32.61,9.5],[32.68,8.8],[32.83,9.4],[32.97,8.8],[33.11,8.9],[33.26,9.2],[33.4,9.1],[33.55,9.5],[33.69,9.8],[33.84,9.6],[33.98,9.4],[34.12,9.5],[34.27,9.4],[34.41,9.2],[34.56,9.4],[34.7,9.2],[34.85,9.5],[34.99,9.4],[35.14,9.6],[35.28,9.8],[35.42,10.2],[35.57,10.5],[35.71,10.2],[35.86,9.9],[36.0,10.4],[36.15,10.2],[36.29,10.1],[36.43,10.2],[36.58,10.1],[36.72,10.2],[36.87,10.1],[37.01,9.9],[37.16,9.6],[37.3,8.9],[37.37,8.2],[37.44,9.8],[37.52,8.8],[37.59,7.4],[37.66,9.6],[37.73,9.2],[37.88,9.4],[38.02,9.5],[38.17,9.2],[38.31,9.1],[38.45,9.2],[38.6,8.9],[38.67,9.5],[38.74,10.5],[38.89,10.5],[39.03,10.4],[39.18,10.5],[39.32,10.4],[39.46,11.0],[39.61,11.0],[39.75,10.7],[39.9,10.5],[40.04,10.4],[40.19,10.4],[40.33,10.2],[40.47,10.7],[40.59,11.0],[40.65,9.6],[40.73,10.5],[40.83,10.4],[40.98,10.1],[41.12,10.2],[41.27,10.1],[41.41,10.2]];

const p3T3: Pt[] = [[0,21.9],[1.37,19.9],[2.67,19.5],[3.97,18.8],[4.84,18.6],[5.7,18.9],[6.13,19.0],[7.0,19.1],[7.65,19.2],[8.3,19.2],[9.0,19.3],[10.3,19.1],[11.6,19.1],[12.5,19.2],[13.2,19.0],[14.0,19.0],[14.5,18.8],[15.66,18.2],[16.4,18.3],[17.0,18.8],[17.6,19.1],[18.5,19.1],[18.97,19.4],[19.4,19.1],[19.84,19.4],[20.3,19.4],[20.85,19.8],[21.4,19.6],[22.0,19.5],[22.55,19.4],[23.1,19.3],[23.7,19.1],[24.3,18.4],[25.18,18.2],[26.3,18.0],[27.5,17.6],[28.1,17.2],[28.64,16.7],[29.36,16.5],[30.08,16.6],[30.81,16.4],[31.53,16.2],[32.39,16.0],[33.26,14.8],[34.12,14.3],[34.99,13.1],[35.86,13.0],[36.72,12.5],[37.59,12.4],[37.8,12.0],[38.02,12.4],[38.89,12.5],[39.75,12.2],[40.62,12.0],[41.41,11.5]];

const p3T5: Pt[] = [[0,21.9],[0.15,21.6],[0.51,21.1],[0.94,20.6],[1.37,19.9],[1.8,20.1],[2.24,19.6],[2.67,19.5],[3.1,19.2],[3.54,19.0],[3.97,18.7],[4.4,18.9],[4.84,18.5],[5.27,18.4],[5.7,18.9],[6.13,18.7],[6.57,18.5],[7.0,18.0],[7.22,17.6],[7.43,17.9],[7.65,18.2],[7.79,17.8],[8.01,17.6],[8.3,17.8],[8.59,17.9],[8.73,18.5],[9.02,18.5],[9.45,18.5],[9.88,18.5],[10.32,18.4],[10.75,18.5],[11.18,18.4],[11.62,18.2],[12.05,18.0],[12.48,17.9],[12.92,18.0],[13.6,18.0],[14.21,17.9],[14.93,18.0],[15.66,17.8],[16.38,17.9],[16.81,18.0],[17.39,18.0],[17.96,17.8],[18.54,17.6],[19.12,17.4],[19.41,17.2],[19.84,18.5],[20.27,18.0],[20.85,17.9],[21.43,17.8],[21.72,17.4],[22.29,17.9],[22.87,18.0],[23.45,17.8],[24.03,17.9],[24.6,17.6],[25.18,17.8],[25.76,17.9],[26.33,17.8],[26.91,17.6],[27.49,17.4],[28.07,17.1],[28.64,16.6],[29.36,16.4],[30.08,16.6],[30.81,16.3],[31.53,16.1],[31.96,16.4],[32.39,15.9],[32.83,15.3],[33.26,14.7],[33.69,14.0],[34.12,14.2],[34.56,13.7],[34.99,13.0],[35.42,12.7],[35.86,12.9],[36.29,12.5],[36.72,12.4],[37.16,12.5],[37.59,12.3],[38.02,12.4],[38.45,12.5],[38.89,12.5],[39.32,12.4],[39.75,12.1],[40.19,12.3],[40.62,11.9],[41.05,11.7],[41.41,11.4]];

const toRows = (pts: Pt[]) => pts.map(([t, v]) => ({ t, v }));

const tickFont = "'Liberation Sans', Arial, sans-serif";

function DateTick(props: any) {
  const { x, y, payload, dates, circled } = props;
  const label = dates[payload.value];
  if (label === undefined) return null;
  const ring = circled.includes(label);
  return (
    <g>
      <text
        x={x}
        y={y}
        dy="0.35em"
        transform={`rotate(-90 ${x} ${y})`}
        textAnchor="end"
        fontSize={11}
        fontWeight="bold"
        fill="#3c3c3c"
        fontFamily={tickFont}
      >
        {label}
      </text>
      {ring && <ellipse cx={x} cy={y + 14} rx={9} ry={18} fill="none" stroke="#444" strokeWidth={1} />}
    </g>
  );
}

function DoLabel(props: any) {
  const vb = props.viewBox || props;
  const x = vb.x + vb.width * props.frac;
  return (
    <text x={x} y={vb.y - 5} textAnchor="middle" fontSize={12} fontWeight="bold" fill="#c42c80" fontFamily="'Liberation Serif', serif">
      DO3mg/l
    </text>
  );
}

function LegendBox({ left, top }: { left: number; top: number }) {
  return (
    <div style={{ position: "absolute", left, top, width: 115, height: 30, border: "1px solid #7a7a7a", background: "#fff", boxSizing: "border-box" }}>
      {seriesNames.map((name, i) => (
        <div
          key={name}
          style={{ position: "absolute", left: i % 2 ? 62 : 5, top: i < 2 ? 4 : 16, display: "flex", alignItems: "center", fontSize: 7, lineHeight: "8px", color: "#444", fontFamily: "'Noto Sans CJK JP', sans-serif", whiteSpace: "nowrap" }}
        >
          <span style={{ display: "inline-block", width: 18, height: 2, background: seriesColors[i], marginRight: 3 }} />
          {name}
        </div>
      ))}
    </div>
  );
}

function Panel(props: any) {
  const { boxTop, boxHeight, chartTop, plotTop, plotH, xAxisH, xMax, dates, circled, do3, do5, t3, t5, labelFrac, legendLeft, legendTop } = props;
  const mt = plotTop - chartTop;
  const chartH = mt + plotH + xAxisH;
  const ticks = dates.map((_: string, i: number) => i);
  const lineProps = { dataKey: "v", dot: false, activeDot: false, isAnimationActive: false, type: "linear" as const };
  return (
    <>
      <div style={{ position: "absolute", left: 7, top: boxTop, width: 1062, height: boxHeight, border: "1px solid #8f8f8f", boxSizing: "border-box" }} />
      <div style={{ position: "absolute", left: 8, top: chartTop }}>
        <LineChart width={1054} height={chartH} margin={{ top: mt, right: 0, bottom: 0, left: 0 }}>
          <CartesianGrid yAxisId="do" vertical={false} stroke="#a0a0a0" strokeDasharray="3 3" />
          <XAxis
            dataKey="t"
            type="number"
            domain={[0, xMax]}
            ticks={ticks}
            interval={0}
            height={xAxisH}
            tickSize={4}
            tickMargin={3}
            allowDataOverflow
            axisLine={false}
            stroke="#555"
            tick={<DateTick dates={dates} circled={circled} />}
          />
          <YAxis
            yAxisId="do"
            domain={[0, 16]}
            ticks={doTicks}
            width={47}
            tickSize={4}
            tickMargin={5}
            axisLine={false}
            stroke="#555"
            tick={{ fontSize: 11, fontWeight: "bold", fill: "#3c3c3c", fontFamily: tickFont }}
          />
          <YAxis
            yAxisId="temp"
            orientation="right"
            domain={[0, 35]}
            ticks={tempTicks}
            width={37}
            tickSize={3}
            tickMargin={4}
            axisLine={false}
            stroke="#555"
            tick={{ fontSize: 11, fontWeight: "bold", fill: "#3c3c3c", fontFamily: tickFont }}
          />
          <ReferenceLine yAxisId="do" y={3} stroke={MAGENTA} strokeWidth={2} label={<DoLabel frac={labelFrac} />} />
          <Line {...lineProps} yAxisId="do" data={toRows(do3)} stroke={YELLOW} strokeWidth={1.8} />
          <Line {...lineProps} yAxisId="temp" data={toRows(t3)} stroke={BLUE} strokeWidth={1.8} />
          <Line {...lineProps} yAxisId="temp" data={toRows(t5)} stroke={GREEN} strokeWidth={1.8} />
          <Line {...lineProps} yAxisId="do" data={toRows(do5)} stroke={RED} strokeWidth={1.8} />
        </LineChart>
      </div>
      <div style={{ position: "absolute", left: 55, top: plotTop, width: 970, height: plotH, border: "1px solid #555", boxSizing: "border-box", pointerEvents: "none" }} />
      <LegendBox left={legendLeft} top={legendTop} />
      <div
        style={{ position: "absolute", left: 20, top: plotTop + plotH * 0.48, transform: "translate(-50%, -50%) rotate(-90deg)", whiteSpace: "nowrap", fontSize: 10.5, fontWeight: "bold", color: "#3c3c3c", fontFamily: "'Noto Sans CJK JP', sans-serif" }}
      >
        溶存酸素量DO(mg/l)
      </div>
      <div
        style={{ position: "absolute", left: 1059, top: plotTop + plotH * 0.55, transform: "translate(-50%, -50%) rotate(90deg)", whiteSpace: "nowrap", fontSize: 12, fontWeight: "bold", color: "#3c3c3c", fontFamily: "'Noto Sans CJK JP', sans-serif" }}
      >
        水温(℃)
      </div>
    </>
  );
}

export default function App() {
  return (
    <div style={{ position: "absolute", left: 0, top: 0, width: 1070, height: 749, background: "#fff", overflow: "hidden" }}>
      <Panel
        boxTop={9}
        boxHeight={240}
        chartTop={10}
        plotTop={18}
        plotH={188}
        xAxisH={42}
        xMax={40}
        dates={p1Dates}
        circled={p1Circled}
        do3={p1Do3}
        do5={p1Do5}
        t3={p1T3}
        t5={p1T5}
        labelFrac={0.57}
        legendLeft={904}
        legendTop={17}
      />
      <Panel
        boxTop={260}
        boxHeight={245}
        chartTop={262}
        plotTop={270}
        plotH={186}
        xAxisH={42}
        xMax={40}
        dates={p2Dates}
        circled={p2Circled}
        do3={p2Do3}
        do5={p2Do5}
        t3={p2T3}
        t5={p2T5}
        labelFrac={0.445}
        legendLeft={904}
        legendTop={273}
      />
      <Panel
        boxTop={508}
        boxHeight={240}
        chartTop={510}
        plotTop={518}
        plotH={181}
        xAxisH={40}
        xMax={42}
        dates={p3Dates}
        circled={p3Circled}
        do3={p3Do3}
        do5={p3Do5}
        t3={p3T3}
        t5={p3T5}
        labelFrac={0.716}
        legendLeft={908}
        legendTop={523}
      />
    </div>
  );
}
